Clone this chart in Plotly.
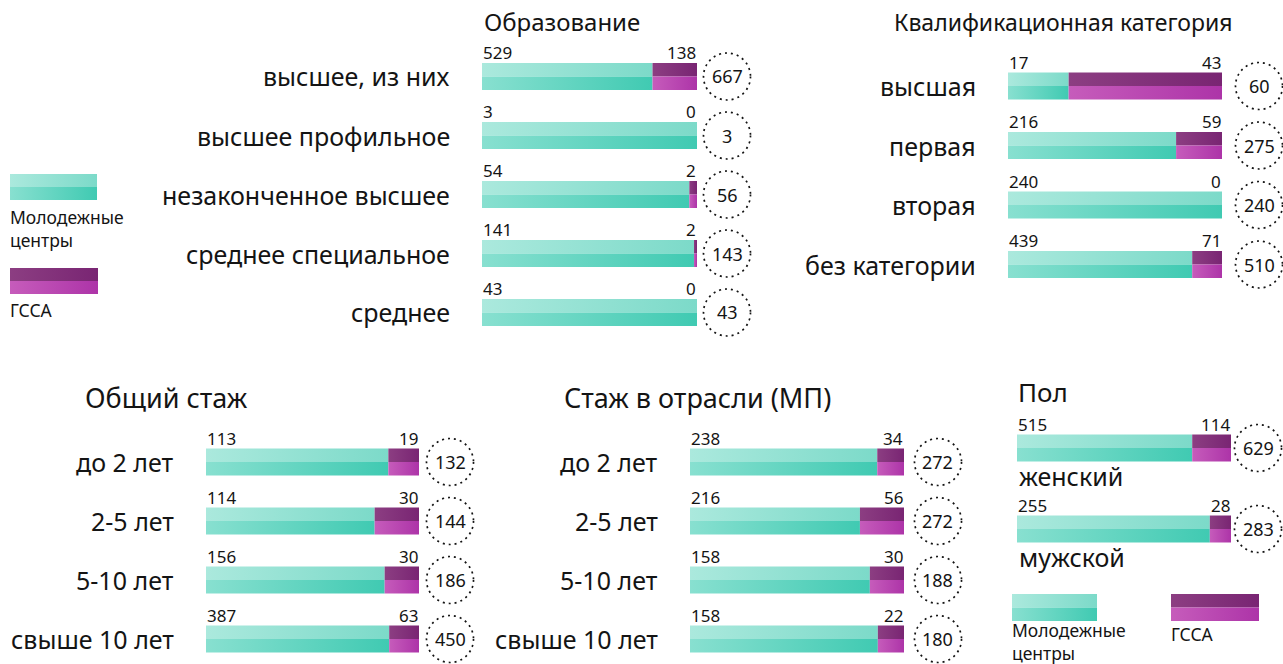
import plotly.graph_objects as go

# ---- data -------------------------------------------------------------
edu_cats = ["высшее, из них", "высшее профильное", "незаконченное высшее",
            "среднее специальное", "среднее"]
edu_youth = [529, 3, 54, 141, 43]
edu_gssa = [138, 0, 2, 2, 0]

qual_cats = ["высшая", "первая", "вторая", "без категории"]
qual_youth = [17, 216, 240, 439]
qual_gssa = [43, 59, 0, 71]

total_exp_cats = ["до 2 лет", "2-5 лет", "5-10 лет", "свыше 10 лет"]
total_exp_youth = [113, 114, 156, 387]
total_exp_gssa = [19, 30, 30, 63]

branch_exp_cats = ["до 2 лет", "2-5 лет", "5-10 лет", "свыше 10 лет"]
branch_exp_youth = [238, 216, 158, 158]
branch_exp_gssa = [34, 56, 30, 22]

sex_cats = ["женский", "мужской"]
sex_youth = [515, 255]
sex_gssa = [114, 28]

series_names = ["Молодежные<br>центры", "ГССА"]

# ---- style ------------------------------------------------------------
W, H = 1283, 664
FONT = "Noto Sans"
INK = "#141414"

TEAL_TOP = ["#ABE9DD", "#7CDAC9"]
TEAL_BOT = ["#88E0D0", "#40CAB2"]
PLUM_TOP = ["#8C3E82", "#792573"]
PLUM_BOT = ["#C65CBB", "#AD34A8"]

panels = [
    dict(title="Образование", cats=edu_cats, a=edu_youth, b=edu_gssa,
         left=482, right=697, first=76.5, step=59, ring=30,
         title_x=483, title_y=22, title_size=24, below=False),
    dict(title="Квалификационная категория", cats=qual_cats, a=qual_youth, b=qual_gssa,
         left=1008, right=1222, first=86, step=59.5, ring=37,
         title_x=893, title_y=22, title_size=23, below=False),
    dict(title="Общий стаж", cats=total_exp_cats, a=total_exp_youth, b=total_exp_gssa,
         left=206, right=419, first=462, step=59, ring=31,
         title_x=84, title_y=397, title_size=27, below=False),
    dict(title="Стаж в отрасли (МП)", cats=branch_exp_cats, a=branch_exp_youth,
         b=branch_exp_gssa, left=690, right=904, first=462, step=59, ring=34,
         title_x=563, title_y=397, title_size=27, below=False),
    dict(title="Пол", cats=sex_cats, a=sex_youth, b=sex_gssa,
         left=1017, right=1231, first=448, step=81, ring=27,
         title_x=1017, title_y=392, title_size=26, below=True),
]

BAR_HALF_PX = 13.5
RING_R = 23.5
LABEL_SIZE = 25
VALUE_SIZE = 17

fig = go.Figure()
annotations = []
shapes = []

# overlay axis in pixel units for rings and legend swatches
LG = len(panels) + 1
lx, ly = f"x{LG}", f"y{LG}"
fig.update_layout({
    f"xaxis{LG}": dict(domain=[0, 1], range=[0, W], visible=False,
                       fixedrange=True, anchor=ly),
    f"yaxis{LG}": dict(domain=[0, 1], range=[H, 0], visible=False,
                       fixedrange=True, anchor=lx),
})


def axis_ids(k):
    return ("x", "y") if k == 1 else (f"x{k}", f"y{k}")


def gradient_rect(x0, x1, y0, y1, colors, xref, yref):
    return go.Scatter(
        x=[x0, x1, x1, x0, x0], y=[y0, y0, y1, y1, y0],
        mode="none", fill="toself",
        fillgradient=dict(type="horizontal",
                          colorscale=[[0, colors[0]], [1, colors[1]]]),
        xaxis=xref, yaxis=yref, hoverinfo="skip", showlegend=False,
    )


for k, p in enumerate(panels, start=1):
    xr, yr = axis_ids(k)
    n = len(p["cats"])
    pad = 0.42
    top_px = p["first"] - pad * p["step"]
    bottom_px = p["first"] + (n - 1 + pad) * p["step"]
    fig.update_layout({
        f"xaxis{'' if k == 1 else k}": dict(
            domain=[p["left"] / W, p["right"] / W], range=[0, 1],
            visible=False, fixedrange=True, anchor=yr),
        f"yaxis{'' if k == 1 else k}": dict(
            domain=[1 - bottom_px / H, 1 - top_px / H],
            range=[n - 1 + pad, -pad],
            visible=False, fixedrange=True, anchor=xr),
    })
    half = BAR_HALF_PX / p["step"]

    for i, (cat, a, b) in enumerate(zip(p["cats"], p["a"], p["b"])):
        total = a + b
        frac = a / total
        # stacked share bar: two-tone halves with left-to-right gradient
        for x0, x1, top_c, bot_c in ((0, frac, TEAL_TOP, TEAL_BOT),
                                     (frac, 1, PLUM_TOP, PLUM_BOT)):
            if x1 - x0 <= 0:
                continue
            fig.add_trace(gradient_rect(x0, x1, i - half, i, top_c, xr, yr))
            fig.add_trace(gradient_rect(x0, x1, i, i + half, bot_c, xr, yr))

        # values above the bar
        annotations.append(dict(x=0, y=i - half, xref=xr, yref=yr, text=str(a),
                                xanchor="left", yanchor="bottom", showarrow=False,
                                font=dict(size=VALUE_SIZE, color=INK, family=FONT),
                                yshift=-2, borderpad=0))
        annotations.append(dict(x=1, y=i - half, xref=xr, yref=yr, text=str(b),
                                xanchor="right", yanchor="bottom", showarrow=False,
                                font=dict(size=VALUE_SIZE, color=INK, family=FONT),
                                yshift=-2, borderpad=0))

        # category label
        if p["below"]:
            annotations.append(dict(x=0, y=i + half, xref=xr, yref=yr, text=cat,
                                    xanchor="left", yanchor="top", showarrow=False,
                                    font=dict(size=LABEL_SIZE, color=INK, family=FONT),
                                    yshift=5))
        else:
            annotations.append(dict(x=0, y=i, xref=xr, yref=yr, text=cat,
                                    xanchor="right", yanchor="middle", showarrow=False,
                                    xshift=-30,
                                    font=dict(size=LABEL_SIZE, color=INK, family=FONT)))

        # total in dotted ring
        cx = p["right"] + p["ring"]
        cy = p["first"] + i * p["step"]
        shapes.append(dict(type="circle", xref=lx, yref=ly,
                           x0=cx - RING_R, x1=cx + RING_R,
                           y0=cy - RING_R, y1=cy + RING_R,
                           line=dict(color=INK, width=1.7, dash="2px,4px")))
        annotations.append(dict(x=1, y=i, xref=xr, yref=yr, text=str(total),
                                xanchor="center", yanchor="middle", showarrow=False,
                                xshift=p["ring"],
                                font=dict(size=18, color=INK, family=FONT)))

    annotations.append(dict(x=p["title_x"] / W, y=1 - p["title_y"] / H,
                            xref="paper", yref="paper", text=p["title"],
                            xanchor="left", yanchor="middle", showarrow=False,
                            borderpad=0,
                            font=dict(size=p["title_size"], color=INK, family=FONT)))

# ---- legend swatches ---------------------------------------------------
legend_spots = [
    # (left, right, top, bottom, top colours, bottom colours, label, label_y)
    (10, 97, 174, 200, TEAL_TOP, TEAL_BOT, series_names[0], 228),
    (10, 98, 268, 294, PLUM_TOP, PLUM_BOT, series_names[1], 310),
    (1012, 1097, 594, 621, TEAL_TOP, TEAL_BOT, series_names[0], 641),
    (1171, 1259, 594, 621, PLUM_TOP, PLUM_BOT, series_names[1], 634),
]
for l, r, t, b, tc, bc, name, lab_y in legend_spots:
    mid = (t + b) / 2
    fig.add_trace(gradient_rect(l, r, t, mid, tc, lx, ly))
    fig.add_trace(gradient_rect(l, r, mid, b, bc, lx, ly))
    annotations.append(dict(x=l, y=lab_y, xref=lx, yref=ly, text=name,
                            xanchor="left", yanchor="middle", align="left",
                            showarrow=False, xshift=-2,
                            font=dict(size=17.5, color=INK, family=FONT)))

fig.update_layout(
    width=W, height=H,
    margin=dict(l=0, r=0, t=0, b=0),
    paper_bgcolor="white", plot_bgcolor="rgba(0,0,0,0)",
    showlegend=False,
    annotations=annotations,
    shapes=shapes,
    font=dict(family=FONT, color=INK),
)

fig.write_html("out.html", config={"displayModeBar": False})
